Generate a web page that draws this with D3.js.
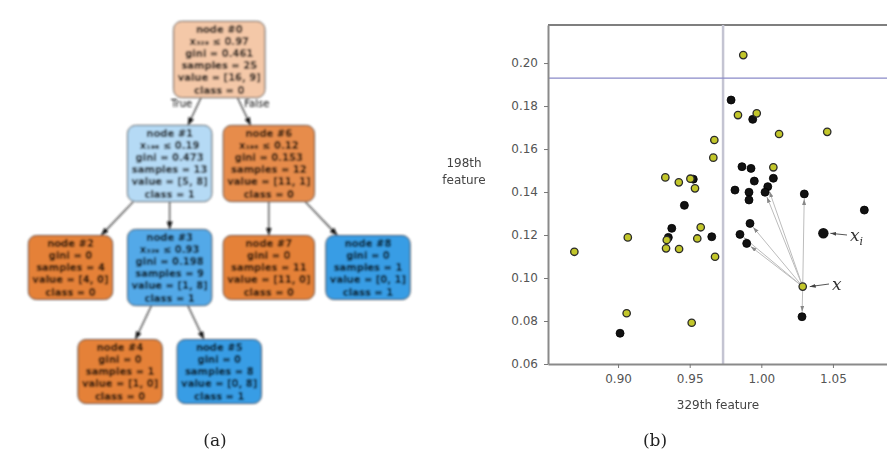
<!DOCTYPE html>
<html>
<head>
<meta charset="utf-8">
<script src="https://cdn.jsdelivr.net/npm/d3@7"></script>
<style>
  body { margin: 0; background: #fff; }
  svg { display: block; }
</style>
</head>
<body>
<svg id="fig" width="887" height="459"></svg>
<script>
// ---------- (a) decision tree ----------
const nodeIds     = [0, 1, 2, 3, 4, 5, 6, 7, 8];
const nodeParent  = [null, 0, 1, 1, 3, 3, 0, 6, 6];
const nodeSplit   = ["x₃₂₉ ≤ 0.97", "x₁₉₈ ≤ 0.19", null, "x₃₂₉ ≤ 0.93", null, null, "x₁₉₈ ≤ 0.12", null, null];
const nodeCounts  = [[16, 9], [5, 8], [4, 0], [1, 8], [1, 0], [0, 8], [11, 1], [11, 0], [0, 1]];
const classNames  = ["0", "1"];
const branchNames = ["True", "False"];

// ---------- (b) scatter of two features ----------
const class0X = [0.9789, 0.9940, 0.9865, 0.9928, 1.0084, 0.9951, 0.9816, 0.9914, 0.9914, 1.0045,
                 1.0026, 1.0300, 1.0719, 0.9525, 0.9463, 0.9375, 0.9351, 0.9654, 0.9921, 0.9851,
                 0.9898, 1.0284, 0.9014];
const class0Y = [0.1828, 0.1738, 0.1518, 0.1510, 0.1464, 0.1451, 0.1409, 0.1399, 0.1363, 0.1425,
                 0.1399, 0.1391, 0.1316, 0.1460, 0.1338, 0.1231, 0.1189, 0.1192, 0.1254, 0.1203,
                 0.1161, 0.0820, 0.0743];
const class1X = [0.9874, 0.9837, 0.9968, 1.0124, 1.0460, 0.9672, 0.9665, 1.0084, 0.9330, 0.9424,
                 0.9505, 0.9537, 0.9068, 0.9340, 0.9335, 0.9426, 0.9577, 0.9553, 0.8695, 0.9677,
                 0.9060, 0.9514];
const class1Y = [0.2037, 0.1758, 0.1766, 0.1670, 0.1680, 0.1642, 0.1560, 0.1515, 0.1468, 0.1445,
                 0.1462, 0.1417, 0.1189, 0.1177, 0.1138, 0.1135, 0.1236, 0.1184, 0.1122, 0.1099,
                 0.0836, 0.0792];
const queryXY   = [1.0289, 0.0960];     // x
const anchorXY  = [1.0433, 0.1208];     // x_i
const neighbourIdx = [11, 9, 10, 18, 19, 20, 21];   // indices into class 0
const xTicks = [0.90, 0.95, 1.00, 1.05];
const yTicks = [0.06, 0.08, 0.10, 0.12, 0.14, 0.16, 0.18, 0.20];
const splitX = 0.9733;   // 329th feature threshold
const splitY = 0.193;    // 198th feature threshold
const xLabel = "329th feature";
const yLabel = ["198th", "feature"];
const captions = ["(a)", "(b)"];

const svg = d3.select("#fig");
const defs = svg.append("defs");
defs.append("filter").attr("id", "soft")
  .attr("x", "-5%").attr("y", "-5%").attr("width", "110%").attr("height", "110%")
  .append("feGaussianBlur").attr("stdDeviation", 0.85);

function arrowMarker(id, w, h, color) {
  defs.append("marker").attr("id", id)
    .attr("markerUnits", "userSpaceOnUse")
    .attr("markerWidth", w).attr("markerHeight", h)
    .attr("refX", w).attr("refY", h / 2).attr("orient", "auto")
    .append("path").attr("d", `M0,0L${w},${h / 2}L0,${h}Z`).attr("fill", color);
}
arrowMarker("treeArrow", 8, 6, "#111");
arrowMarker("nnArrow", 6, 4, "#888");
arrowMarker("lblArrow", 6, 4, "#444");

// ---------------- tree ----------------
const orange = d3.rgb(229, 129, 57), blue = d3.rgb(57, 157, 229);
const table = nodeIds.map((id, i) => ({ id: String(id), parent: nodeParent[i] == null ? null : String(nodeParent[i]), i }));
const root = d3.stratify().id(d => d.id).parentId(d => d.parent)(table);

const gini = c => { const n = d3.sum(c); return 1 - d3.sum(c, v => (v / n) ** 2); };
root.each(n => {
  const i = n.data.i, c = nodeCounts[i], n0 = d3.sum(c);
  const k = c[0] >= c[1] ? 0 : 1;
  const sorted = c.slice().sort((a, b) => b - a);
  const alpha = (sorted[0] - sorted[1]) / (n0 - sorted[1]);
  n.fill = d3.interpolateRgb("#ffffff", k === 0 ? orange : blue)(alpha);
  n.lines = [`node #${nodeIds[i]}`];
  if (nodeSplit[i]) n.lines.push(nodeSplit[i]);
  n.lines.push(`gini = ${d3.format(".3~f")(gini(c))}`,
               `samples = ${n0}`,
               `value = [${c.join(", ")}]`,
               `class = ${classNames[k]}`);
});

// graphviz-like placement: widest rank evenly spaced, leaves under parents, upper ranks aligned
const rowY = d3.scaleLinear().domain([0, 3]).range([59.5, 371.5]);
const rank2 = root.descendants().filter(d => d.depth === 2);
const colX = d3.scalePoint().domain(rank2.map(d => d.id)).range([70.5, 368]);
const half = colX.step() / 2;
rank2.forEach(d => d.x = colX(d.id));
root.descendants().filter(d => d.depth === 3)
  .forEach(d => d.x = d.parent.x + (d.parent.children.indexOf(d) === 0 ? -half : half));
root.descendants().filter(d => d.depth === 1).forEach(d => {
  const heavy = d.children.reduce((a, b) => (b.descendants().length > a.descendants().length ? b : a));
  d.x = heavy.x;
});
root.x = d3.mean(root.children, c => c.x);
root.each(d => d.y = rowY(d.depth));

const LH = 12.2;
const tree = svg.append("g").attr("filter", "url(#soft)");
const edgeG = tree.append("g");
const nodeG = tree.append("g");

const nodeSel = nodeG.selectAll("g").data(root.descendants()).join("g")
  .attr("transform", d => `translate(${d.x},${d.y})`);
nodeSel.each(function (d) {
  const g = d3.select(this);
  d.h = d.lines.length * LH + 3;
  const rect = g.append("rect");
  const t = g.append("text").attr("text-anchor", "middle")
    .attr("font-family", "DejaVu Sans, sans-serif").attr("font-size", 10)
    .attr("font-weight", 600).attr("fill", "#000");
  d.lines.forEach((s, j) => t.append("tspan").attr("x", 0).attr("y", -d.h / 2 + 1.5 + LH * (j + 1) - 2.5).text(s));
  d.w = t.node().getBBox().width + 8;
  rect.attr("x", -d.w / 2).attr("y", -d.h / 2).attr("width", d.w).attr("height", d.h)
    .attr("rx", 8).attr("fill", d.fill).attr("stroke", "#444").attr("stroke-width", 1);
});

root.links().forEach(l => {
  const s = l.source, t = l.target;
  const y0 = s.y + s.h / 2, y1 = t.y - t.h / 2;
  const xAt = y => s.x + (t.x - s.x) * (y - s.y) / (t.y - s.y);
  edgeG.append("line")
    .attr("x1", xAt(y0)).attr("y1", y0).attr("x2", xAt(y1)).attr("y2", y1)
    .attr("stroke", "#222").attr("stroke-width", 1.1).attr("marker-end", "url(#treeArrow)");
  if (s === root) {
    const k = root.children.indexOf(t);
    const yl = s.y + s.h / 2 + 9.5;
    edgeG.append("text").attr("x", xAt(yl - 3.5) + (k === 0 ? -6 : 4)).attr("y", yl)
      .attr("text-anchor", k === 0 ? "end" : "start")
      .attr("font-family", "DejaVu Sans, sans-serif").attr("font-size", 10).attr("fill", "#111")
      .text(branchNames[k]);
  }
});

// ---------------- scatter ----------------
const x = d3.scaleLinear().domain([0.8511, 1.0968]).range([548, 900]);
const y = d3.scaleLinear().domain([0.06, 0.2177]).range([364, 25]);
const plot = svg.append("g");

plot.append("line").attr("x1", x.range()[0]).attr("x2", x.range()[1])
  .attr("y1", y.range()[1]).attr("y2", y.range()[1]).attr("stroke", "#555").attr("stroke-width", 1.5);

plot.append("line").attr("x1", x(splitX)).attr("x2", x(splitX))
  .attr("y1", y.range()[0]).attr("y2", y.range()[1]).attr("stroke", "#c4c4d2").attr("stroke-width", 2.5);
plot.append("line").attr("x1", x.range()[0]).attr("x2", x.range()[1])
  .attr("y1", y(splitY)).attr("y2", y(splitY)).attr("stroke", "#8a8ac8").attr("stroke-width", 1.2);

const styleAxis = g => {
  g.select(".domain").attr("stroke", "#8a8a8a").attr("stroke-width", 2);
  g.selectAll(".tick line").attr("stroke", "#777");
  g.selectAll(".tick text").attr("fill", "#555").attr("font-family", "DejaVu Sans, sans-serif").attr("font-size", 12);
};
plot.append("g").attr("transform", `translate(0,${y.range()[0]})`)
  .call(d3.axisBottom(x).tickValues(xTicks).tickFormat(d3.format(".2f")).tickSize(4).tickPadding(6).tickSizeOuter(0))
  .call(styleAxis);
plot.append("g").attr("transform", `translate(${x.range()[0]},0)`)
  .call(d3.axisLeft(y).tickValues(yTicks).tickFormat(d3.format(".2f")).tickSize(4).tickPadding(6).tickSizeOuter(0))
  .call(styleAxis);

plot.append("text").attr("x", 718).attr("y", 409).attr("text-anchor", "middle")
  .attr("font-family", "DejaVu Sans, sans-serif").attr("font-size", 12).attr("fill", "#444").text(xLabel);
const yl = plot.append("text").attr("text-anchor", "middle")
  .attr("font-family", "DejaVu Sans, sans-serif").attr("font-size", 12).attr("fill", "#444");
yLabel.forEach((s, j) => yl.append("tspan").attr("x", 464).attr("y", 167 + 17 * j).text(s));

// neighbour links from the query point
const qx = x(queryXY[0]), qy = y(queryXY[1]);
neighbourIdx.forEach(i => {
  const tx = x(class0X[i]), ty = y(class0Y[i]);
  const dx = tx - qx, dy = ty - qy, len = Math.hypot(dx, dy), r = 5;
  plot.append("line").attr("x1", qx).attr("y1", qy)
    .attr("x2", tx - dx / len * r).attr("y2", ty - dy / len * r)
    .attr("stroke", "#bcbcbc").attr("stroke-width", 1).attr("marker-end", "url(#nnArrow)");
});

plot.append("g").selectAll("circle").data(class0X).join("circle")
  .attr("cx", d => x(d)).attr("cy", (d, i) => y(class0Y[i])).attr("r", 4)
  .attr("fill", "#111").attr("stroke", "#000").attr("stroke-width", 0.8);
plot.append("g").selectAll("circle").data(class1X).join("circle")
  .attr("cx", d => x(d)).attr("cy", (d, i) => y(class1Y[i])).attr("r", 3.7)
  .attr("fill", "#c2c62a").attr("stroke", "#2a2a2a").attr("stroke-width", 1.3);

plot.append("circle").attr("cx", x(anchorXY[0])).attr("cy", y(anchorXY[1])).attr("r", 5.2).attr("fill", "#111");
plot.append("circle").attr("cx", qx).attr("cy", qy).attr("r", 3.7)
  .attr("fill", "#c2c62a").attr("stroke", "#2a2a2a").attr("stroke-width", 1.3);

// point labels with short arrows
function pointLabel(px, py, lx, ly, sub) {
  plot.append("line").attr("x1", lx - 3).attr("y1", ly - 4).attr("x2", px + 7).attr("y2", py)
    .attr("stroke", "#555").attr("stroke-width", 1).attr("marker-end", "url(#lblArrow)");
  const t = plot.append("text").attr("x", lx).attr("y", ly + 2)
    .attr("font-family", "DejaVu Serif, serif").attr("font-style", "italic").attr("font-size", 17).attr("fill", "#333").text("x");
  if (sub) t.append("tspan").attr("font-size", 11).attr("dy", 4).text(sub);
}
pointLabel(x(anchorXY[0]), y(anchorXY[1]), 850, 239, "i");
pointLabel(qx, qy, 832, 288, null);

// panel captions
svg.selectAll(".cap").data(captions).join("text").attr("class", "cap")
  .attr("x", (d, i) => [215, 655][i]).attr("y", 446).attr("text-anchor", "middle")
  .attr("font-family", "DejaVu Serif, serif").attr("font-size", 17).attr("fill", "#222").text(d => d);
</script>
</body>
</html>
